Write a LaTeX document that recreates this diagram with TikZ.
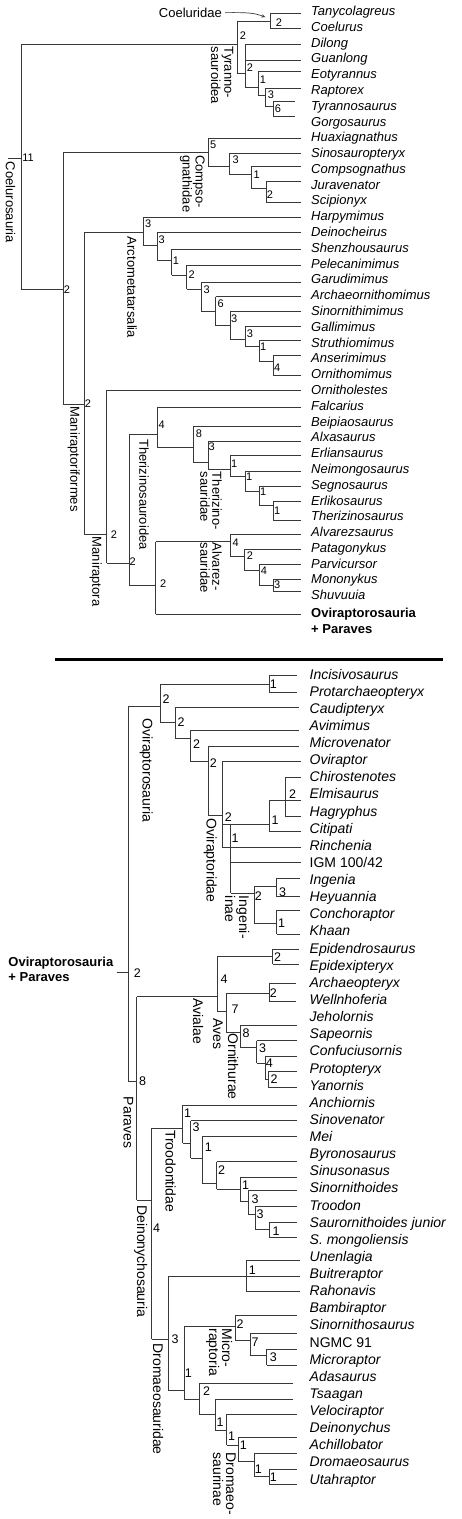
\documentclass[tikz,border=0pt]{standalone}
\usepackage{fontspec}
\setmainfont{Liberation Sans}
\usetikzlibrary{arrows.meta}
\newcommand\ftaxA{\fontsize{13}{15}\selectfont\itshape}
\newcommand\ftaxB{\fontsize{14}{16}\selectfont\itshape}
\newcommand\fnumA{\fontsize{11}{13}\selectfont}
\newcommand\fnumB{\fontsize{12.5}{14}\selectfont}
\newcommand\fcladeA{\fontsize{13}{12}\selectfont}
\newcommand\fcladeB{\fontsize{14}{13}\selectfont}
\tikzset{
  br/.style={draw=black!78, line width=0.8pt},
  taxA/.style={anchor=base west, inner sep=0pt, font=\ftaxA},
  taxB/.style={anchor=base west, inner sep=0pt, font=\ftaxB},
  numA/.style={inner sep=0pt, font=\fnumA},
  numB/.style={inner sep=0pt, font=\fnumB},
  cladeA/.style={rotate=-90, anchor=north west, inner sep=0pt, align=left, font=\fcladeA},
  cladeB/.style={rotate=-90, anchor=north west, inner sep=0pt, align=left, font=\fcladeB},
}
\begin{document}
\begin{tikzpicture}[x=1pt,y=-1pt]
\useasboundingbox[fill=white] (0,0) rectangle (461,1519);

% ---------------- top panel: taxa
\foreach \n [count=\i] in {Tanycolagreus,Coelurus,Dilong,Guanlong,Eotyrannus,Raptorex,Tyrannosaurus,Gorgosaurus,Huaxiagnathus,Sinosauropteryx,Compsognathus,Juravenator,Scipionyx,Harpymimus,Deinocheirus,Shenzhousaurus,Pelecanimimus,Garudimimus,Archaeornithomimus,Sinornithimimus,Gallimimus,Struthiomimus,Anserimimus,Ornithomimus,Ornitholestes,Falcarius,Beipiaosaurus,Alxasaurus,Erliansaurus,Neimongosaurus,Segnosaurus,Erlikosaurus,Therizinosaurus,Alvarezsaurus,Patagonykus,Parvicursor,Mononykus,Shuvuuia}
  \node[taxA] (a\i) at (311,{15.5+(\i-1)*15.79}) {\n};
\node[taxA, font=\fontsize{13}{15}\selectfont\bfseries] (a39) at (311,617) {Oviraptorosauria};
\node[taxA, font=\fontsize{13}{15}\selectfont\bfseries] (a40) at (311,633) {+ Paraves};

% terminal branches (top)
\foreach \x/\y/\e in {270/13.3/301, 270/28.3/301, 245/44.3/301, 245/60/301, 258.3/71.7/301, 265/88.3/301,
  273.3/101.7/295, 273.3/116.7/295, 208.3/138.3/301, 229.3/153.3/301, 251/166.7/301, 266/181.7/301, 266/202.3/301,
  143.3/217.7/301, 157.3/232.3/301, 171.7/249/301, 186.7/265/301, 201/282.3/301, 215.7/296.7/301, 230/311.7/301,
  245/326.7/301, 259/340.7/301, 273.3/355/301, 273.3/375/301, 106.7/390/301, 157.3/407.3/301, 193.3/426.7/301,
  208.3/441/301, 230/455.7/301, 245/471/301, 259.3/486.7/301, 273.3/501/301, 273.3/520.7/301, 230/534.3/301,
  244.3/549.3/301, 259/564.3/301, 273.3/579.3/301, 273.3/591.7/301, 155.7/614/301}
  \draw[br] (\x,\y) -- (\e,\y);

% internal branches (top): vertical x/y1/y2
\foreach \x/\ya/\yb in {21/44.3/289.3, 237/21.7/73.3, 270/13.3/28.3, 245/44.3/87.7, 258.3/71.7/95, 265/88.3/106.7,
  273.3/101.7/116.7, 63.3/152.3/404.3, 208.3/138.3/166.7, 229.3/153.3/174, 251/166.7/188.3, 266/181.7/202.3,
  84/232.3/534.3, 143.3/217.7/245.7, 157.3/232.3/260, 171.7/249/275, 186.7/265/289.3, 201/282.3/311,
  215.7/296.7/325.7, 230/311.7/339.3, 245/326.7/346.7, 259/340.7/361.7, 273.3/355/375,
  106.7/390/563.3, 129/434/585, 157.3/407.3/447.7, 193.3/426.7/462.7, 208.3/441/469.3, 230/455.7/476.7,
  245/471/491.7, 259.3/486.7/505, 273.3/501/520.7, 155.7/541.7/614, 230/534.3/556, 244.3/549.3/570.7,
  259/564.3/585, 273.3/579.3/591.7}
  \draw[br] (\x,\ya) -- (\x,\yb);
% joins x1/x2/y
\foreach \xa/\xb/\y in {8/21/158, 21/237/44.3, 237/270/21.7, 237/245/73.3, 245/258.3/87.7, 258.3/265/95, 265/273.3/106.7,
  21/63.3/289.3, 63.3/208.3/152.3, 208.3/229.3/166.7, 229.3/251/174, 251/266/188.3, 63.3/84/404.3,
  84/143.3/232.3, 143.3/157.3/245.7, 157.3/171.7/260, 171.7/186.7/275, 186.7/201/289.3, 201/215.7/311,
  215.7/230/325.7, 230/245/339.3, 245/259/346.7, 259/273.3/361.7, 84/106.7/534.3, 106.7/129/563.3,
  129/157.3/434, 157.3/193.3/447.7, 193.3/208.3/462.7, 208.3/230/469.3, 230/245/476.7, 245/259.3/491.7,
  259.3/273.3/505, 129/155.7/585, 155.7/230/541.7, 230/244.3/556, 244.3/259/570.7, 259/273.3/585}
  \draw[br] (\xa,\y) -- (\xb,\y);

% support values (top)
\foreach \x/\y/\t [count=\k] in {28/158/11, 243/36/2, 279/22.7/2, 250/68/2, 263/80/1, 271/94.3/3, 278/108.3/6,
  67/290/2, 213.3/145/5, 235.7/160/3, 256.7/174.3/1, 270/194.3/2, 88/403.3/2, 148.3/223.3/3, 161.7/239.3/3,
  176/260.7/1, 191.7/275/2, 206.7/289.3/3, 220.7/303.3/6, 234.3/318.3/3, 250/333.3/3, 263.3/346.7/1,
  277.3/367.3/4, 114/534.3/2, 132.7/561.7/2, 161.7/425/4, 199/433.3/8, 211.7/446.7/3, 234.3/463.3/1,
  249.3/476.7/1, 263.3/491.7/1, 277.3/510.7/1, 163.3/583.3/2, 235.7/542.3/4, 250/556/2, 264/570.7/4, 277.3/585/3}
  \node[numA] (sa\k) at (\x,\y) {\t};

% clade names (top)
\node[cladeA] (cCoel) at (15.5,161.7) {Coelurosauria};
\node[cladeA] (cTyr) at (233.5,46.7) {Tyranno-\\sauroidea};
\node[cladeA] (cComp) at (205,155) {Compso-\\gnathidae};
\node[cladeA] (cArct) at (137,236.7) {Arctometatarsalia};
\node[cladeA] (cManf) at (80,406.7) {Maniraptoriformes};
\node[cladeA] (cMan) at (102,536.7) {Maniraptora};
\node[cladeA] (cTherz) at (149,439) {Therizinosauroidea};
\node[cladeA] (cTherd) at (222,471.7) {Therizino-\\sauridae};
\node[cladeA] (cAlv) at (222,542.7) {Alvarez-\\sauridae};
\node[anchor=base east, inner sep=0pt, font=\fontsize{13}{15}\selectfont] (cCoeld) at (222,17.3) {Coeluridae};
\coordinate (coelTip) at (265.5,17.2);
\draw[black!78, line width=0.7pt, -{Stealth[length=4pt,width=3.2pt]}] ([xshift=3pt]cCoeld.east) .. controls (248,12.4) and (254,12.8) .. (coelTip);

% separator
\draw[line width=2.8pt] (55,659.3) -- (443.3,659.3);

% ---------------- bottom panel: taxa
\foreach \n [count=\i] in {Incisivosaurus,Protarchaeopteryx,Caudipteryx,Avimimus,Microvenator,Oviraptor,Chirostenotes,Elmisaurus,Hagryphus,Citipati,Rinchenia,{\upshape IGM 100/42},Ingenia,Heyuannia,Conchoraptor,Khaan,Epidendrosaurus,Epidexipteryx,Archaeopteryx,Wellnhoferia,Jeholornis,Sapeornis,Confuciusornis,Protopteryx,Yanornis,Anchiornis,Sinovenator,Mei,Byronosaurus,Sinusonasus,Sinornithoides,Troodon,Saurornithoides junior,S. mongoliensis,Unenlagia,Buitreraptor,Rahonavis,Bambiraptor,Sinornithosaurus,{\upshape NGMC 91},Microraptor,Adasaurus,Tsaagan,Velociraptor,Deinonychus,Achillobator,Dromaeosaurus,Utahraptor}
  \node[taxB] (b\i) at (309.5,{679+(\i-1)*17.13}) {\n};
\node[taxB, font=\fontsize{13}{15}\selectfont\bfseries] (opA) at (8.3,966.7) {Oviraptorosauria};
\node[taxB, font=\fontsize{13}{15}\selectfont\bfseries] (opB) at (8.3,981.7) {+ Paraves};

% terminal branches (bottom)
\foreach \x/\y/\e in {269.3/675/297, 269.3/692/297, 175/707.5/299, 190.7/730/299, 208.3/746.7/299, 222.3/761.7/301,
  285/777.3/301, 269.3/800.7/301, 285/816.7/301, 269.3/831.7/301, 222.3/847.7/301, 230.7/862.7/301,
  276.7/878.3/300, 276.7/896.7/300, 276.7/910/300, 276.7/934.3/300, 272.7/949/299, 272.7/964.3/299,
  269.3/983.3/296, 269.3/1001/296, 240.7/1025/296.7, 256.7/1040.7/296.7, 265/1056/296.7, 268.3/1071/296.7,
  268.3/1087.3/296.7, 182.7/1105/296.7, 190.7/1120.7/296.7, 202.3/1136/296.7, 216.7/1161.7/296.7,
  240/1177.7/296.7, 248.3/1190.7/296.7, 255/1206/296.7, 269.3/1222.3/296.7, 269.3/1237.7/296.7,
  246/1260/300, 168.3/1276.7/300, 246/1291.7/300, 235/1315.7/297, 250/1333.3/297, 266.7/1349.3/297,
  266.7/1365/297, 199.3/1383.3/293, 215/1399/293, 226.7/1414.3/296.7, 238.3/1437.7/296.7,
  254/1453.3/296.7, 269.3/1469.3/296.7, 269.3/1484.3/296.7}
  \draw[br] (\x,\y) -- (\e,\y);

\foreach \x/\ya/\yb in {128.3/706.7/1081, 160/684.3/722.7, 269.3/675/692, 175/707.5/738.3, 190.7/730/761.7,
  208.3/746.7/815, 222.3/761.7/847.7, 230.7/824/893.3, 269.3/800.7/831.7, 285/777.3/816.7, 254/886.7/923.3,
  276.7/878.3/896.7, 276.7/910/934.3, 136.7/996.7/1200, 217/956.7/1011.7, 272.7/949/964.3, 226/993.3/1032.3,
  269.3/983.3/1001, 240.7/1025/1047.7, 256.7/1040.7/1063.3, 265/1056/1079.3, 268.3/1071/1087.3,
  151.7/1128.3/1339.3, 182.7/1105/1143.3, 190.7/1120.7/1158.3, 202.3/1136/1183.3, 216.7/1161.7/1189,
  240/1177.7/1201, 248.3/1190.7/1214.3, 255/1206/1229.3, 269.3/1222.3/1237.7, 168.3/1276.7/1390,
  246/1260/1291.7, 184.3/1326/1399, 235/1315.7/1340, 250/1333.3/1355, 266.7/1349.3/1365,
  199.3/1383.3/1414.3, 215/1399/1430, 226.7/1414.3/1445, 238.3/1437.7/1461, 254/1453.3/1476.7,
  269.3/1469.3/1484.3}
  \draw[br] (\x,\ya) -- (\x,\yb);
\foreach \xa/\xb/\y in {116.7/128.3/972.7, 128.3/160/706.7, 160/269.3/684.3, 160/175/722.7, 175/190.7/738.3,
  190.7/208.3/761.7, 208.3/222.3/815, 222.3/269.3/824, 230.7/254/893.3, 254/276.7/886.7, 254/276.7/923.3,
  128.3/136.7/1081, 136.7/217/996.7, 217/272.7/956.7, 217/226/1011.7, 226/269.3/993.3, 226/240.7/1032.3,
  240.7/256.7/1047.7, 256.7/265/1063.3, 265/268.3/1079.3, 136.7/151.7/1200, 151.7/182.7/1128.3,
  182.7/190.7/1143.3, 190.7/202.3/1158.3, 202.3/216.7/1183.3, 216.7/240/1189, 240/248.3/1201,
  248.3/255/1214.3, 255/269.3/1229.3, 151.7/168.3/1339.3, 168.3/184.3/1390, 184.3/235/1326, 235/250/1340,
  250/266.7/1355, 184.3/199.3/1399, 199.3/215/1414.3, 215/226.7/1430, 226.7/238.3/1445, 238.3/254/1461,
  254/269.3/1476.7}
  \draw[br] (\xa,\y) -- (\xb,\y);

\foreach \x/\y/\t [count=\k] in {137.3/972.7/2, 166/699/2, 273.3/684.3/1, 181/721.7/2, 196.7/744.3/2, 213.3/762.7/2,
  228.3/816.7/2, 235/838.3/1, 275/820/1, 292.7/794.3/2, 258.3/895.7/2, 282.7/891.7/3, 281.7/923.3/1,
  142.7/1081/8, 224/979/4, 277.7/956.7/2, 235/1009.3/7, 273.3/993.3/2, 246/1033.3/8, 262.7/1048.3/3,
  269.3/1062.7/4, 274/1079.3/2, 156.7/1228.3/4, 187.7/1113.3/1, 196/1127/3, 208.3/1146.7/1, 221.7/1170/2,
  245.7/1185/1, 255/1199/3, 260/1214.3/3, 276/1231/1, 175/1339.3/3, 252.3/1270/1, 188.3/1373.3/1,
  240/1324/2, 255/1341.7/7, 273.3/1356.7/3, 206.7/1391/2, 220/1421.7/1, 231.7/1436/1, 243.3/1445/1,
  258.3/1469.3/1, 273.3/1476.7/1}
  \node[numB] (sb\k) at (\x,\y) {\t};

\node[cladeB] (cOvs) at (153,718.3) {Oviraptorosauria};
\node[cladeB] (cOvd) at (217,818.3) {Oviraptoridae};
\node[cladeB] (cIng) at (249.5,895.7) {Ingeni-\\inae};
\node[cladeB] (cAvi) at (203.5,998.3) {Avialae};
\node[cladeB] (cAves) at (223,1018.3) {Aves};
\node[cladeB] (cOrn) at (238.5,1033.3) {Ornithurae};
\node[cladeB] (cPar) at (133.5,1096.7) {Paraves};
\node[cladeB] (cTro) at (176,1130) {Troodontidae};
\node[cladeB] (cDei) at (147.5,1205) {Deinonychosauria};
\node[cladeB] (cDro) at (163.5,1343.3) {Dromaeosauridae};
\node[cladeB] (cMic) at (232.5,1328.3) {Micro-\\raptoria};
\node[cladeB] (cDrn) at (236,1452.3) {Dromaeo-\\saurinae};
\end{tikzpicture}
\end{document}
